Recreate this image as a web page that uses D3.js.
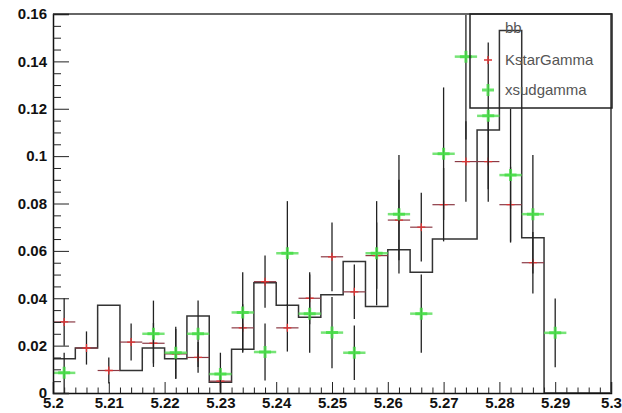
<!DOCTYPE html>
<html>
<head>
<meta charset="utf-8">
<script src="https://cdn.jsdelivr.net/npm/d3@7"></script>
<style>
  body { margin: 0; background: #fff; }
  svg text { font-family: "Liberation Sans", Arial, sans-serif; }
</style>
</head>
<body>
<div id="chart"></div>
<script>
// bin lower edges (25 bins of width 0.004)
const binLow = [5.200, 5.204, 5.208, 5.212, 5.216, 5.220, 5.224, 5.228, 5.232, 5.236,
                5.240, 5.244, 5.248, 5.252, 5.256, 5.260, 5.264, 5.268, 5.272, 5.276,
                5.280, 5.284, 5.288, 5.292, 5.296];
const binWidth = 0.004;

// bb histogram contents
const bbValues = [0.0145, 0.019, 0.037, 0.0095, 0.019, 0.0145, 0.0325, 0.0045, 0.0185, 0.0465,
                  0.037, 0.032, 0.0415, 0.0555, 0.0365, 0.0605, 0.051, 0.065, 0.065, 0.111,
                  0.153, 0.0655, 0, 0, 0];

// KstarGamma points and errors (null = empty bin)
const kstarValues = [0.030, 0.019, 0.0095, 0.0215, 0.021, 0.0165, 0.015, 0.005, 0.0275, 0.047,
                     0.0275, 0.040, 0.0575, 0.0427, 0.058, 0.073, 0.070, 0.0795, 0.0977, 0.0977,
                     0.0795, 0.055, null, null, null];
const kstarErrors = [0.010, 0.007, 0.0055, 0.0078, 0.0085, 0.0105, 0.0065, 0.0045, 0.010, 0.011,
                     0.010, 0.011, 0.0145, 0.0115, 0.014, 0.017, 0.0145, 0.0155, 0.017, 0.017,
                     0.016, 0.013, null, null, null];

// xsudgamma points and errors
const xsudValues = [0.0085, null, null, null, 0.025, 0.017, 0.025, 0.008, 0.034, 0.0173,
                    0.059, 0.0335, 0.0255, 0.017, 0.059, 0.0755, 0.0335, 0.101, 0.142, 0.117,
                    0.092, 0.0755, 0.0254, null, null];
const xsudErrors = [0.0085, null, null, null, 0.014, 0.011, 0.014, 0.009, 0.017, 0.012,
                    0.022, 0.0165, 0.015, 0.0115, 0.022, 0.025, 0.0165, 0.028, 0.035, 0.031,
                    0.028, 0.025, 0.0145, null, null];

// axis ticks
const xTicks = [5.2, 5.21, 5.22, 5.23, 5.24, 5.25, 5.26, 5.27, 5.28, 5.29, 5.3];
const xTickLabels = ["5.2", "5.21", "5.22", "5.23", "5.24", "5.25", "5.26", "5.27", "5.28", "5.29", "5.3"];
const xMinorTicks = [5.202, 5.204, 5.206, 5.208, 5.212, 5.214, 5.216, 5.218, 5.222, 5.224, 5.226, 5.228,
                     5.232, 5.234, 5.236, 5.238, 5.242, 5.244, 5.246, 5.248, 5.252, 5.254, 5.256, 5.258,
                     5.262, 5.264, 5.266, 5.268, 5.272, 5.274, 5.276, 5.278, 5.282, 5.284, 5.286, 5.288,
                     5.292, 5.294, 5.296, 5.298];
const yTicks = [0, 0.02, 0.04, 0.06, 0.08, 0.1, 0.12, 0.14, 0.16];
const yTickLabels = ["0", "0.02", "0.04", "0.06", "0.08", "0.1", "0.12", "0.14", "0.16"];
const yMinorTicks = [0.005, 0.01, 0.015, 0.025, 0.03, 0.035, 0.045, 0.05, 0.055, 0.065, 0.07, 0.075,
                     0.085, 0.09, 0.095, 0.105, 0.11, 0.115, 0.125, 0.13, 0.135, 0.145, 0.15, 0.155];

const legendNames = ["bb", "KstarGamma", "xsudgamma"];

const drawChart = () => {
  const W = 622, H = 413;
  const left = 53, right = 611, top = 14, bottom = 393;

  const svg = d3.select("#chart")
    .append("svg")
      .attr("width", W)
      .attr("height", H);

  const x = d3.scaleLinear().domain([5.2, 5.3]).range([left, right]);
  const y = d3.scaleLinear().domain([0, 0.16]).range([bottom, top]);

  // clip to the frame
  svg.append("clipPath").attr("id", "frame")
    .append("rect")
      .attr("x", left).attr("y", top)
      .attr("width", right - left).attr("height", bottom - top);

  const plot = svg.append("g").attr("clip-path", "url(#frame)");

  // bb histogram outline
  const steps = [];
  binLow.forEach((b, i) => {
    steps.push([b, bbValues[i]]);
    steps.push([b + binWidth, bbValues[i]]);
  });
  steps.unshift([5.2, 0]);
  steps.push([5.3, 0]);
  plot.append("path")
    .datum(steps)
    .attr("fill", "none")
    .attr("stroke", "#333")
    .attr("stroke-width", 1.5)
    .attr("d", d3.line().x(d => x(d[0])).y(d => y(d[1])));

  // error bar points for one series
  const drawPoints = (values, errors, opts) => {
    const pts = binLow.map((b, i) => ({ lo: b, v: values[i], e: errors[i] }))
      .filter(d => d.v !== null);
    const g = plot.append("g");
    // vertical error bars
    g.selectAll(".ev").data(pts).join("line")
      .attr("x1", d => x(d.lo + binWidth / 2)).attr("x2", d => x(d.lo + binWidth / 2))
      .attr("y1", d => y(d.v - d.e)).attr("y2", d => y(d.v + d.e))
      .attr("stroke", "#222").attr("stroke-width", 1.3);
    // horizontal bin width bars
    g.selectAll(".eh").data(pts).join("line")
      .attr("x1", d => x(d.lo)).attr("x2", d => x(d.lo + binWidth))
      .attr("y1", d => y(d.v)).attr("y2", d => y(d.v))
      .attr("stroke", opts.hColor).attr("stroke-width", opts.hWidth)
      .attr("stroke-opacity", opts.hOpacity);
    // marker
    g.selectAll(".mk").data(pts).join("path")
      .attr("d", d => {
        const cx = x(d.lo + binWidth / 2), cy = y(d.v);
        return `M${cx - opts.size},${cy}H${cx + opts.size}M${cx},${cy - opts.size}V${cy + opts.size}`;
      })
      .attr("stroke", opts.color).attr("stroke-width", opts.width)
      .attr("stroke-opacity", opts.opacity).attr("fill", "none");
  };

  drawPoints(kstarValues, kstarErrors,
    { hColor: "#8b3a45", hWidth: 1.2, hOpacity: 1, color: "#dd3333", width: 1.3, size: 4, opacity: 1 });
  drawPoints(xsudValues, xsudErrors,
    { hColor: "#55dd55", hWidth: 2.5, hOpacity: 0.8, color: "#44dd44", width: 3, size: 6, opacity: 0.8 });

  // frame top and right
  svg.append("path")
    .attr("d", `M${left},${top}H${right}V${bottom}`)
    .attr("fill", "none")
    .attr("stroke", "#666")
    .attr("stroke-width", 2);

  // x axis, ticks pointing up into the plot
  const xAxis = svg.append("g")
    .attr("transform", `translate(0,${bottom})`)
    .call(d3.axisBottom(x).tickValues(xTicks).tickSize(-11).tickPadding(5)
      .tickFormat((d, i) => xTickLabels[i]));
  xAxis.selectAll("text").attr("y", 4).attr("dy", "0.71em")
    .style("font-size", "15px").style("font-weight", "bold").attr("fill", "#111");
  svg.append("g")
    .attr("transform", `translate(0,${bottom})`)
    .call(d3.axisBottom(x).tickValues(xMinorTicks).tickSize(-5.5).tickFormat(""))
    .select(".domain").remove();

  // y axis, ticks pointing right into the plot
  const yAxis = svg.append("g")
    .attr("transform", `translate(${left},0)`)
    .call(d3.axisLeft(y).tickValues(yTicks).tickSize(-16).tickPadding(6)
      .tickFormat((d, i) => yTickLabels[i]));
  yAxis.selectAll("text")
    .style("font-size", "15px").style("font-weight", "bold").attr("fill", "#111");
  svg.append("g")
    .attr("transform", `translate(${left},0)`)
    .call(d3.axisLeft(y).tickValues(yMinorTicks).tickSize(-8).tickFormat(""))
    .select(".domain").remove();

  svg.selectAll(".domain").attr("stroke", "#111").attr("stroke-width", 1.5);
  svg.selectAll(".tick line").attr("stroke", "#222");

  // legend (transparent box)
  svg.append("rect")
    .attr("x", 470).attr("y", 14)
    .attr("width", 142).attr("height", 94)
    .attr("fill", "none")
    .attr("stroke", "#222")
    .attr("stroke-width", 1.5);

  const legendY = [28, 60, 90];
  legendNames.forEach((name, i) => {
    svg.append("text")
      .attr("x", 505)
      .attr("y", legendY[i])
      .attr("dy", "0.35em")
      .text(name)
      .style("font-size", "15px")
      .attr("fill", "#555");
  });
  // legend markers
  svg.append("path")
    .attr("d", `M484,${legendY[1]}H492M488,${legendY[1] - 4}V${legendY[1] + 4}`)
    .attr("stroke", "#dd3333").attr("stroke-width", 1.3);
  svg.append("path")
    .attr("d", `M482,${legendY[2]}H494M488,${legendY[2] - 6}V${legendY[2] + 6}`)
    .attr("stroke", "#44dd44").attr("stroke-width", 3).attr("stroke-opacity", 0.8);
};

drawChart();
</script>
</body>
</html>
